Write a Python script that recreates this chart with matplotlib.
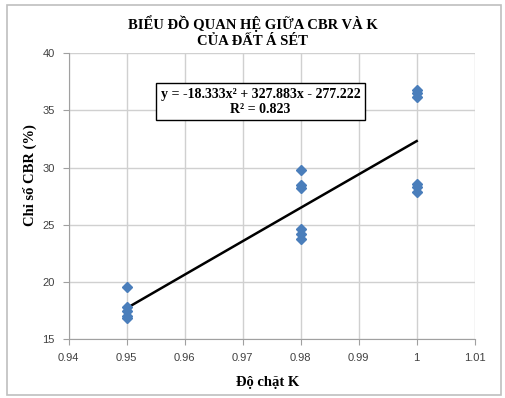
import numpy as np
import matplotlib.pyplot as plt

# Data
k_values = [0.95, 0.95, 0.95, 0.95, 0.95,
            0.98, 0.98, 0.98, 0.98, 0.98, 0.98,
            1.00, 1.00, 1.00, 1.00, 1.00, 1.00]
cbr_values = [19.6, 17.8, 17.5, 17.0, 16.9,
              29.8, 28.5, 28.2, 24.6, 24.2, 23.8,
              36.8, 36.5, 36.2, 28.6, 28.3, 27.9]

# Trendline (polynomial, order 2) as shown on the chart
trend_coef = [-18.333, 327.883, -277.222]
r_squared = 0.823

x_ticks = [0.94, 0.95, 0.96, 0.97, 0.98, 0.99, 1.00, 1.01]
x_tick_labels = ["0.94", "0.95", "0.96", "0.97", "0.98", "0.99", "1", "1.01"]
y_ticks = [15, 20, 25, 30, 35, 40]

title = "BIỂU ĐỒ QUAN HỆ GIỮA CBR VÀ K\nCỦA ĐẤT Á SÉT"
x_label = "Độ chặt K"
y_label = "Chỉ số CBR (%)"

serif = ["Liberation Serif", "DejaVu Serif"]
sans = ["Liberation Sans", "DejaVu Sans"]

fig = plt.figure(figsize=(5.05, 3.98), dpi=100)
ax = fig.add_axes([0.136, 0.1475, 0.804, 0.7186])

# Chart border
fig.patches.append(plt.Rectangle((0.014, 0.008), 0.978, 0.98, transform=fig.transFigure,
                                 fill=False, edgecolor="#bfbfbf", linewidth=1.2))

# Scatter points
ax.plot(k_values, cbr_values, linestyle="none", marker="D", markersize=5.5,
        color="#4a7ebb", zorder=3)

# Trendline between min and max K
xs = np.linspace(min(k_values), max(k_values), 100)
ax.plot(xs, np.polyval(trend_coef, xs), color="black", linewidth=1.8, zorder=2)

ax.set_xlim(0.94, 1.01)
ax.set_ylim(15, 40)
ax.set_xticks(x_ticks)
ax.set_xticklabels(x_tick_labels)
ax.set_yticks(y_ticks)
ax.grid(True, color="#d0d0d0", linewidth=1.0)
ax.set_axisbelow(True)

for side in ["top", "right"]:
    ax.spines[side].set_visible(False)
for side in ["left", "bottom"]:
    ax.spines[side].set_color("#a0a0a0")
ax.tick_params(direction="out", length=4, color="#a0a0a0", labelcolor="#404040",
               labelsize=8, pad=6)
for lbl in ax.get_xticklabels() + ax.get_yticklabels():
    lbl.set_family(sans)

# Equation box
eq = "y = {:.3f}x² + {:.3f}x - {:.3f}".format(trend_coef[0], trend_coef[1], -trend_coef[2])
ax.text(0.2265, 0.83, eq + "\n" + f"R² = {r_squared}",
        transform=ax.transAxes, ha="left", va="center", multialignment="center",
        fontsize=10, fontweight="bold", family=serif, linespacing=1.25,
        bbox=dict(boxstyle="square,pad=0.3", facecolor="white", edgecolor="black",
                  linewidth=1.0), zorder=4)

fig.text(0.5, 0.92, title, ha="center", va="center", fontsize=10.5,
         fontweight="bold", family=serif, linespacing=1.3)
fig.text(0.06, 0.56, y_label, ha="center", va="center", rotation=90,
         fontsize=10.5, fontweight="bold", family=serif)
fig.text(0.53, 0.04, x_label, ha="center", va="center", fontsize=10.5,
         fontweight="bold", family=serif)

fig.savefig("out.png", dpi=100)
